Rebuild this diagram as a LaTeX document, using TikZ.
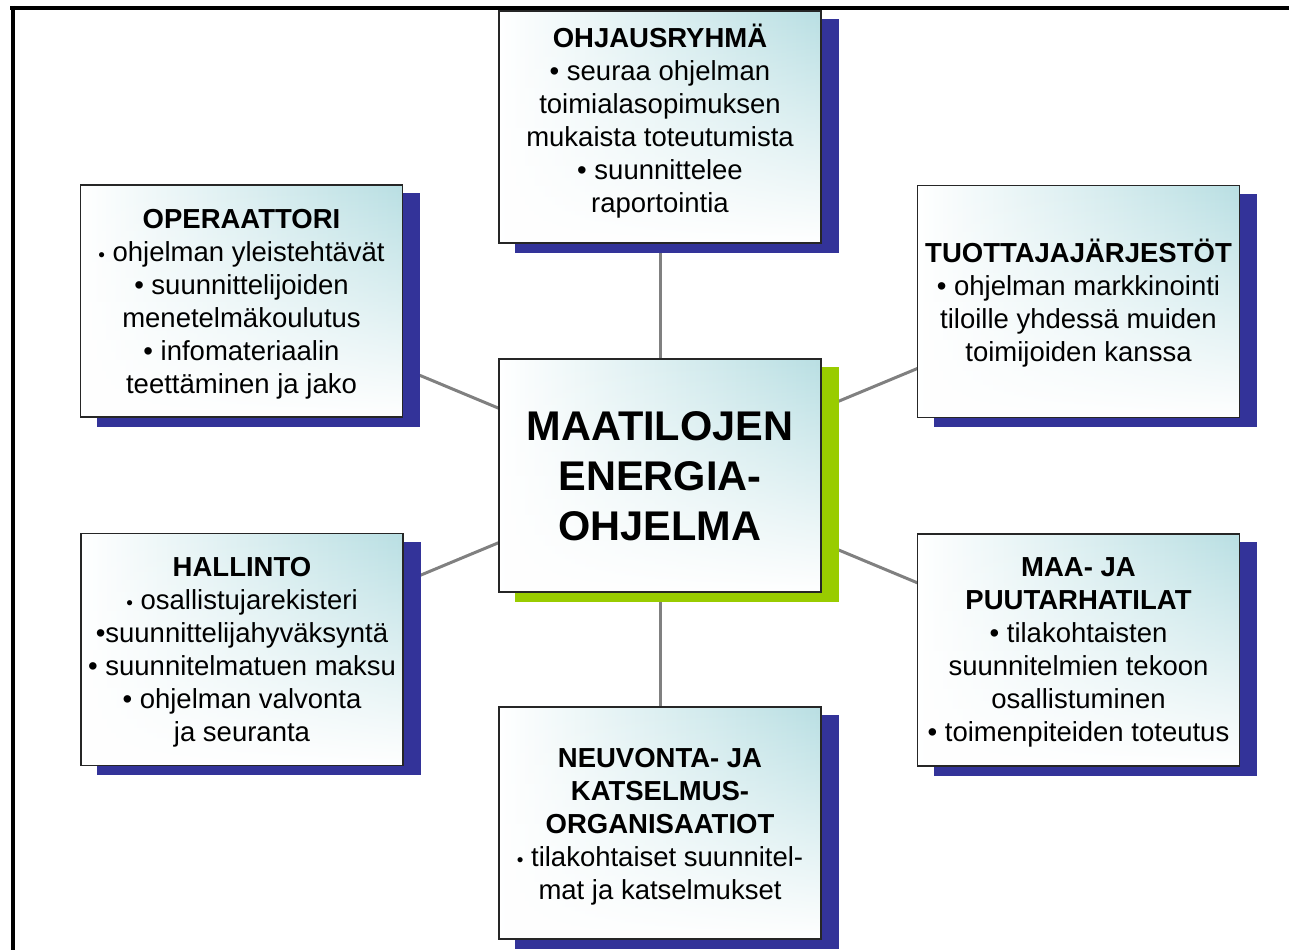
\documentclass[tikz,border=0pt]{standalone}
\usepackage{fontspec}
\setmainfont{Liberation Sans}
\usetikzlibrary{fadings}
\definecolor{tealc}{RGB}{185,223,227}
\definecolor{navyc}{RGB}{51,51,153}
\definecolor{limec}{RGB}{153,204,0}
\definecolor{connc}{RGB}{128,128,128}
\tikzfading[name=fadebottom, top color=transparent!100, middle color=transparent!60, bottom color=transparent!0]
\pgfdeclarelayer{bg}
\pgfdeclarelayer{shad}
\pgfsetlayers{bg,shad,main}
\newcommand{\sbul}{{\fontsize{19}{33}\selectfont •}}
\begin{document}
\begin{tikzpicture}[x=1pt,y=-1pt,
  box/.style={draw=black!85, line width=1.3pt, minimum width=322pt, minimum height=232pt,
    inner sep=0pt, left color=white, middle color=tealc!55!white, right color=tealc,
    path picture={\fill[white, path fading=fadebottom]
      (path picture bounding box.south west) rectangle (path picture bounding box.north east);}},
  txt/.style={align=center, font=\fontsize{27.5}{33}\selectfont, inner sep=0pt},
  big/.style={align=center, font=\fontsize{41.5}{50}\selectfont\bfseries, inner sep=0pt},
  conn/.style={draw=connc, line width=3pt},
  frame/.style={draw=black, line width=4pt}
]
\useasboundingbox (0,0) rectangle (1289,950);
% frame
\draw[frame] (10,8) -- (1289,8);
\draw[frame] (12.5,6) -- (12.5,950);
% boxes
\node[box] (ohj) at (660,127) {};
\node[box] (ope) at (241.5,301) {};
\node[box] (tuo) at (1078.5,301.5) {};
\node[box, minimum height=233pt] (cen) at (660,475.5) {};
\node[box] (hal) at (242,649.5) {};
\node[box] (maa) at (1078.5,650) {};
\node[box] (neu) at (660,823) {};
% shadows
\begin{pgfonlayer}{shad}
\foreach \n in {ohj,ope,tuo,hal,maa,neu}{
  \fill[navyc] ([shift={(17,9)}]\n.north west) rectangle ([shift={(17,9)}]\n.south east);
}
\fill[limec] ([shift={(17,9)}]cen.north west) rectangle ([shift={(17,9)}]cen.south east);
\end{pgfonlayer}
% connectors
\begin{pgfonlayer}{bg}
\foreach \n in {ohj,ope,tuo,hal,maa,neu}{
  \draw[conn] (cen.center) -- (\n.center);
}
\end{pgfonlayer}
% texts
\node[txt] (tohj) at ([shift={(0,-6)}]ohj.center) {\textbf{OHJAUSRYHMÄ}\\• seuraa ohjelman\\toimialasopimuksen\\mukaista toteutumista\\• suunnittelee\\raportointia};
\node[txt] (tope) at ([shift={(0,3)}]ope.center) {\textbf{OPERAATTORI}\\\sbul{} ohjelman yleistehtävät\\• suunnittelijoiden\\menetelmäkoulutus\\• infomateriaalin\\teettäminen ja jako};
\node[txt] (ttuo) at ([shift={(0,2)}]tuo.center) {\textbf{TUOTTAJAJÄRJESTÖT}\\• ohjelman markkinointi\\tiloille yhdessä muiden\\toimijoiden kanssa};
\node[big] (tcen) at ([shift={(0,1)}]cen.center) {MAATILOJEN\\ENERGIA-\\OHJELMA};
\node[txt] (thal) at ([shift={(0,3)}]hal.center) {\textbf{HALLINTO}\\\sbul{} osallistujarekisteri\\•suunnittelijahyväksyntä\\• suunnitelmatuen maksu\\• ohjelman valvonta\\ja seuranta};
\node[txt] (tmaa) at ([shift={(0,2)}]maa.center) {\textbf{MAA- JA}\\\textbf{PUUTARHATILAT}\\• tilakohtaisten\\suunnitelmien tekoon\\osallistuminen\\• toimenpiteiden toteutus};
\node[txt] (tneu) at ([shift={(0,4)}]neu.center) {\textbf{NEUVONTA- JA}\\\textbf{KATSELMUS-}\\\textbf{ORGANISAATIOT}\\\sbul{} tilakohtaiset suunnitel-\\mat ja katselmukset};
\end{tikzpicture}
\end{document}
